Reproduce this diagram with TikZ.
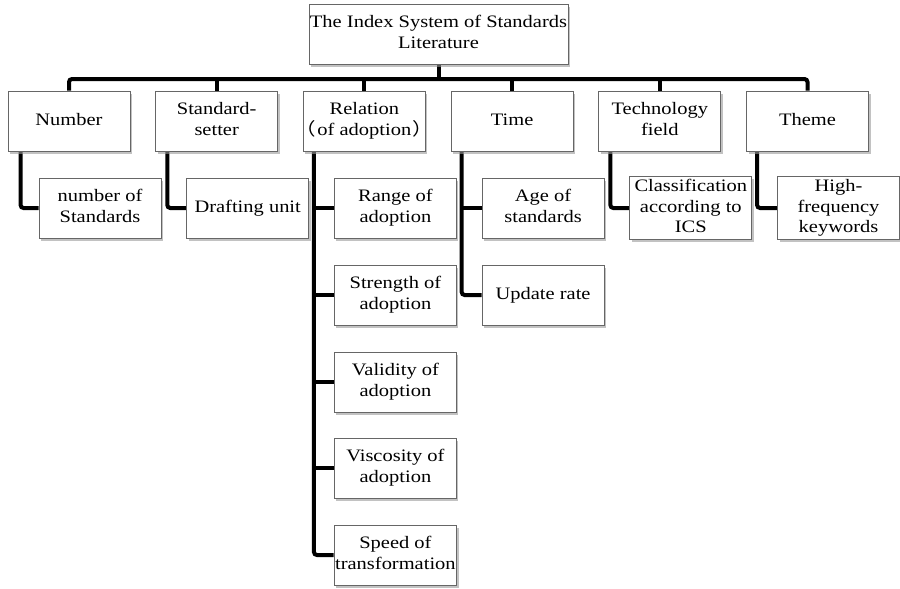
\documentclass[tikz,border=0pt]{standalone}
\usepackage{fontspec}
\setmainfont{Liberation Serif}
\newfontfamily\cjk{Noto Sans CJK SC}
\usetikzlibrary{shadows}
\pgfdeclarelayer{background}
\pgfsetlayers{background,main}
% box label: centred lines, set a little wide
\newcommand{\lbl}[1]{\scalebox{1.17}[1]{\begin{tabular}{@{}c@{}}#1\end{tabular}}}
% full-width brackets with their outer blank trimmed
\newcommand{\lpar}{\kern-8pt{\cjk （}\kern1pt}
\newcommand{\rpar}{\kern1pt{\cjk ）}\kern-8pt}
\tikzset{
  box/.style={draw=black!60, line width=0.9pt, fill=white, align=center,
    minimum width=122pt, minimum height=60pt, inner sep=1pt,
    font=\fontsize{17.5}{20.5}\selectfont,
    drop shadow={shadow xshift=2pt, shadow yshift=-2.5pt, fill=black!40, opacity=0.6}},
  conn/.style={line width=4pt, black, rounded corners=3pt},
}
\begin{document}
\begin{tikzpicture}[x=1pt,y=-1pt]
\useasboundingbox (0,0) rectangle (900,589);

% root
\node[box, minimum width=259pt] (root) at (438.5,34) {\lbl{The Index System of Standards\\Literature}};

% first level
\node[box] (n1) at (69,121)    {\lbl{Number}};
\node[box] (n2) at (216.7,121) {\lbl{Standard-\\setter}};
\node[box] (n3) at (364.4,121) {\lbl{Relation\\\lpar of adoption\rpar}};
\node[box] (n4) at (512.1,121) {\lbl{Time}};
\node[box] (n5) at (659.8,121) {\lbl{Technology\\field}};
\node[box] (n6) at (807.5,121) {\lbl{Theme}};

% second level
\node[box] (s1) at (100,208)   {\lbl{number of\\Standards}};
\node[box] (s2) at (247.7,208) {\lbl{Drafting unit}};
\node[box] (r1) at (395.4,208) {\lbl{Range of\\adoption}};
\node[box] (r2) at (395.4,295) {\lbl{Strength of\\adoption}};
\node[box] (r3) at (395.4,382) {\lbl{Validity of\\adoption}};
\node[box] (r4) at (395.4,468) {\lbl{Viscosity of\\adoption}};
\node[box] (r5) at (395.4,555) {\lbl{Speed of\\transformation}};
\node[box] (t1) at (543.1,208) {\lbl{Age of\\standards}};
\node[box] (t2) at (543.1,295) {\lbl{Update rate}};
\node[box] (s5) at (690.8,208) {\lbl{Classification\\according to\\ICS}};
\node[box] (s6) at (838.5,208) {\lbl{High-\\frequency\\keywords}};

\begin{pgfonlayer}{background}
  % bus below the root
  \coordinate (bus) at (438.5,79);
  \draw[conn] (root.south) -- (bus);
  \draw[conn] (n1.north) |- (bus) -| (n6.north);
  \foreach \n in {n2,n3,n4,n5}
    \draw[conn] (\n.north) -- (\n.north |- bus);

  % branches to the second level
  \draw[conn] (n1.south west) ++(13,0) |- (s1.west);
  \draw[conn] (n2.south west) ++(12,0) |- (s2.west);
  \draw[conn] (n3.south west) ++(11,0) coordinate (v3) |- (r5.west);
  \foreach \r in {r1,r2,r3,r4}
    \draw[conn] (v3 |- \r.west) -- (\r.west);
  \draw[conn] (n4.south west) ++(11,0) coordinate (v4) |- (t2.west);
  \draw[conn] (v4 |- t1.west) -- (t1.west);
  \draw[conn] (n5.south west) ++(12,0) |- (s5.west);
  \draw[conn] (n6.south west) ++(11,0) |- (s6.west);
\end{pgfonlayer}
\end{tikzpicture}
\end{document}
